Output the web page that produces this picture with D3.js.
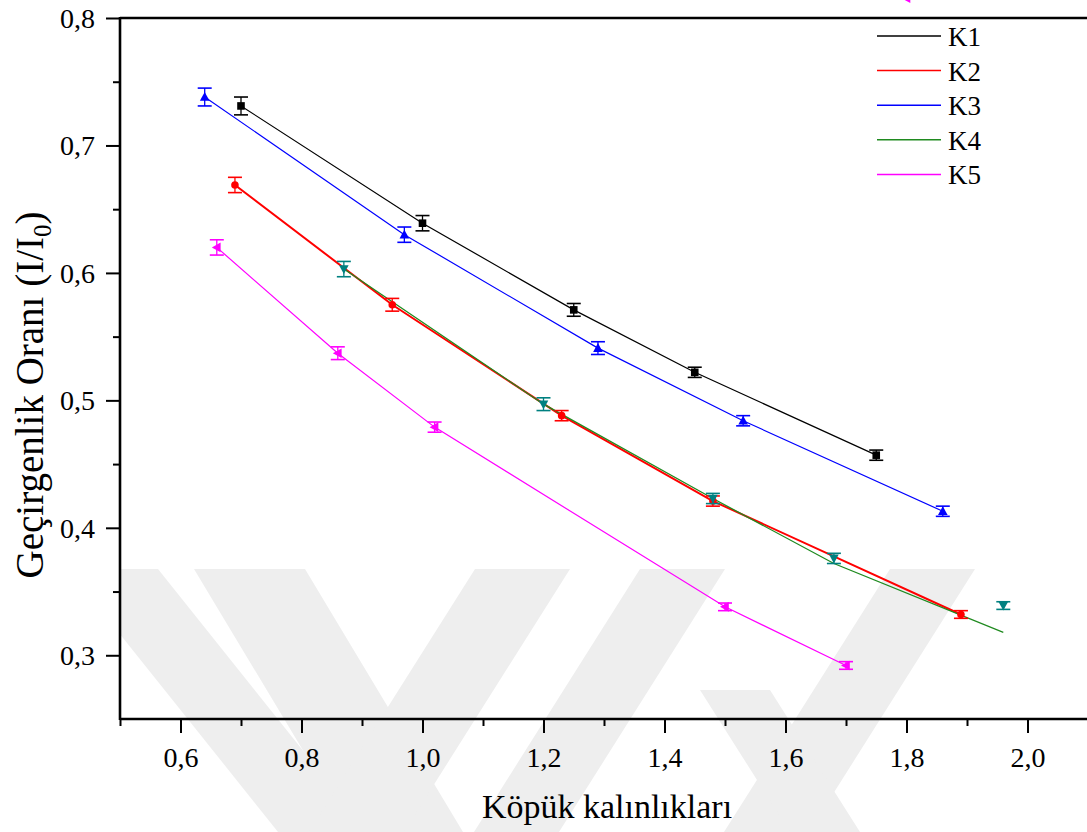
<!DOCTYPE html>
<html><head><meta charset="utf-8">
<script src="https://cdn.jsdelivr.net/npm/d3@7"></script>
<style>body{margin:0;background:#fff} svg{display:block} text{font-family:'Liberation Serif','Times New Roman',serif}</style>
</head><body>
<svg id="chart" width="1087" height="832"></svg>
<script>
// ---- data ----
const seriesNames = ["K1", "K2", "K3", "K4", "K5"];
const k1X = [0.70, 1.00, 1.25, 1.45, 1.75];
const k1Y = [0.731, 0.639, 0.571, 0.522, 0.457];
const k1Err = [0.007, 0.006, 0.005, 0.004, 0.004];
const k2X = [0.69, 0.95, 1.23, 1.48, 1.89];
const k2Y = [0.669, 0.575, 0.488, 0.421, 0.332];
const k2Err = [0.006, 0.005, 0.004, 0.004, 0.003];
const k3X = [0.64, 0.97, 1.29, 1.53, 1.86];
const k3Y = [0.738, 0.630, 0.541, 0.484, 0.413];
const k3Err = [0.007, 0.006, 0.005, 0.004, 0.004];
const k4X = [0.87, 1.20, 1.48, 1.68, 1.96];
const k4Y = [0.603, 0.497, 0.423, 0.376, 0.339];
const k4Err = [0.006, 0.005, 0.004, 0.004, 0.003];
const k4FitY = [0.603, 0.497, 0.423, 0.372, 0.318];
const k5X = [0.66, 0.86, 1.02, 1.50, 1.70];
const k5Y = [0.620, 0.537, 0.479, 0.338, 0.292];
const k5Err = [0.006, 0.005, 0.004, 0.003, 0.003];
const k5StrayX = [1.80];
const k5StrayY = [0.8155];
const xTicks = [0.6, 0.8, 1.0, 1.2, 1.4, 1.6, 1.8, 2.0];
const xMinor = [0.5, 0.7, 0.9, 1.1, 1.3, 1.5, 1.7, 1.9];
const yTicks = [0.3, 0.4, 0.5, 0.6, 0.7, 0.8];
const yMinor = [0.35, 0.45, 0.55, 0.65, 0.75];
const xTitle = "Köpük kalınlıkları";

// ---- styles ----
const colors = {K1: "#000000", K2: "#ff0000", K3: "#0000ff", K4: "#1f8a1f", K5: "#ff00ff"};
const markColors = {K1: "#000000", K2: "#ff0000", K3: "#0000ff", K4: "#008080", K5: "#ff00ff"};
const lineW = {K1: 1.2, K2: 2, K3: 1.2, K4: 1.3, K5: 1.2};

const series = [
  {name: "K1", x: k1X, y: k1Y, err: k1Err, fit: k1Y, shape: "square"},
  {name: "K2", x: k2X, y: k2Y, err: k2Err, fit: k2Y, shape: "circle"},
  {name: "K3", x: k3X, y: k3Y, err: k3Err, fit: k3Y, shape: "up"},
  {name: "K4", x: k4X, y: k4Y, err: k4Err, fit: k4FitY, shape: "down"},
  {name: "K5", x: k5X, y: k5Y, err: k5Err, fit: k5Y, shape: "left"}
];

const svg = d3.select("#chart");
const x = d3.scaleLinear().domain([0.5, 2.1]).range([120, 1088]);
const y = d3.scaleLinear().domain([0.25, 0.8]).range([719, 18]);
const FONT = "'Liberation Serif', 'Times New Roman', serif";

// watermark decoration (light grey bands)
svg.append("clipPath").attr("id", "wmclip").append("rect")
  .attr("x", 121).attr("y", 569).attr("width", 966).attr("height", 263);
const wm = [
  [[68,569],[158,569],[368,832],[278,832]],
  [[194,569],[305,569],[463,832],[352,832]],
  [[475,569],[570,569],[404,832],[309,832]],
  [[640,569],[725,569],[559,832],[474,832]],
  [[890,569],[975,569],[809,832],[724,832]],
  [[700,690],[770,690],[860,832],[790,832]]
];
svg.append("g").attr("clip-path", "url(#wmclip)").selectAll("polygon").data(wm).join("polygon")
  .attr("points", d => d.map(p => p.join(",")).join(" "))
  .attr("fill", "#eeeeee");

// lines
const line = d3.line().x(d => x(d[0])).y(d => y(d[1])).curve(d3.curveLinear);
const gPlot = svg.append("g");
series.forEach(s => {
  gPlot.append("path")
    .datum(s.x.map((v, i) => [v, s.fit[i]]))
    .attr("d", line).attr("fill", "none")
    .attr("stroke", colors[s.name]).attr("stroke-width", lineW[s.name]);
});

// markers & error bars
function markerPath(shape) {
  switch (shape) {
    case "square": return "M-3.8,-3.8h7.6v7.6h-7.6z";
    case "circle": return d3.symbol(d3.symbolCircle, 45)();
    case "up": return "M0,-5L4.8,3.8L-4.8,3.8Z";
    case "down": return "M0,5L4.8,-3.8L-4.8,-3.8Z";
    case "left": return "M-5,0L3.8,-4.8L3.8,4.8Z";
  }
}
series.forEach(s => {
  const g = gPlot.append("g");
  const c = markColors[s.name];
  s.x.forEach((xv, i) => {
    const cx = x(xv), yt = y(s.y[i] + s.err[i]), yb = y(s.y[i] - s.err[i]);
    g.append("line").attr("x1", cx).attr("x2", cx).attr("y1", yt).attr("y2", yb)
      .attr("stroke", c).attr("stroke-width", 1.3);
    g.append("line").attr("x1", cx - 7).attr("x2", cx + 7).attr("y1", yt).attr("y2", yt)
      .attr("stroke", c).attr("stroke-width", 1.6);
    g.append("line").attr("x1", cx - 7).attr("x2", cx + 7).attr("y1", yb).attr("y2", yb)
      .attr("stroke", c).attr("stroke-width", 1.6);
    g.append("path").attr("d", markerPath(s.shape))
      .attr("transform", `translate(${cx},${y(s.y[i])})`).attr("fill", c);
  });
});
k5StrayX.forEach((xv, i) => {
  gPlot.append("path").attr("d", markerPath("left"))
    .attr("transform", `translate(${x(xv)},${y(k5StrayY[i])})`).attr("fill", markColors.K5);
});

// axes
const fmt = d => d3.format(".1f")(d).replace(".", ",");
const xAxis = svg.append("g").attr("transform", "translate(0,719)")
  .call(d3.axisBottom(x).tickValues(xTicks).tickSize(14).tickFormat(fmt));
const yAxis = svg.append("g").attr("transform", "translate(120,0)")
  .call(d3.axisLeft(y).tickValues(yTicks).tickSize(14).tickPadding(11).tickFormat(fmt));
[xAxis, yAxis].forEach(a => {
  a.select(".domain").remove();
  a.selectAll(".tick line").attr("stroke", "#000").attr("stroke-width", 2);
  a.selectAll(".tick text").style("font-family", FONT).attr("font-size", 28).attr("fill", "#000");
});
xAxis.selectAll(".tick text").attr("y", 48).attr("dy", null);
yAxis.selectAll(".tick text").attr("dy", "0.34em");
svg.append("g").attr("transform", "translate(0,719)")
  .call(d3.axisBottom(x).tickValues(xMinor).tickSize(7).tickFormat(""))
  .call(g => g.select(".domain").remove())
  .selectAll("line").attr("stroke-width", 2);
svg.append("g").attr("transform", "translate(120,0)")
  .call(d3.axisLeft(y).tickValues(yMinor).tickSize(7).tickFormat(""))
  .call(g => g.select(".domain").remove())
  .selectAll("line").attr("stroke-width", 2);

// frame lines
svg.append("line").attr("x1", 120).attr("x2", 1087).attr("y1", 719).attr("y2", 719)
  .attr("stroke", "#000").attr("stroke-width", 2.6);
svg.append("line").attr("x1", 120).attr("x2", 1087).attr("y1", 18).attr("y2", 18)
  .attr("stroke", "#000").attr("stroke-width", 2.6);
svg.append("line").attr("x1", 120).attr("x2", 120).attr("y1", 17).attr("y2", 720)
  .attr("stroke", "#000").attr("stroke-width", 2.6);

// titles
svg.append("text").attr("x", 607).attr("y", 818).attr("text-anchor", "middle")
  .style("font-family", FONT).attr("font-size", 34).text(xTitle);
const yt = svg.append("text").attr("transform", "translate(43,395) rotate(-90)")
  .attr("text-anchor", "middle").style("font-family", FONT).attr("font-size", 39);
yt.append("tspan").text("Geçirgenlik Oranı (I/I");
yt.append("tspan").attr("font-size", 25).attr("dy", 8).text("0");
yt.append("tspan").attr("dy", -8).text(")");

// legend
const leg = svg.append("g");
seriesNames.forEach((n, i) => {
  const ly = 36 + i * 34.6;
  leg.append("line").attr("x1", 877).attr("x2", 941).attr("y1", ly).attr("y2", ly)
    .attr("stroke", colors[n]).attr("stroke-width", 1.5);
  leg.append("text").attr("x", 948).attr("y", ly + 10).style("font-family", FONT)
    .attr("font-size", 27).text(n);
});
</script>
</body></html>
